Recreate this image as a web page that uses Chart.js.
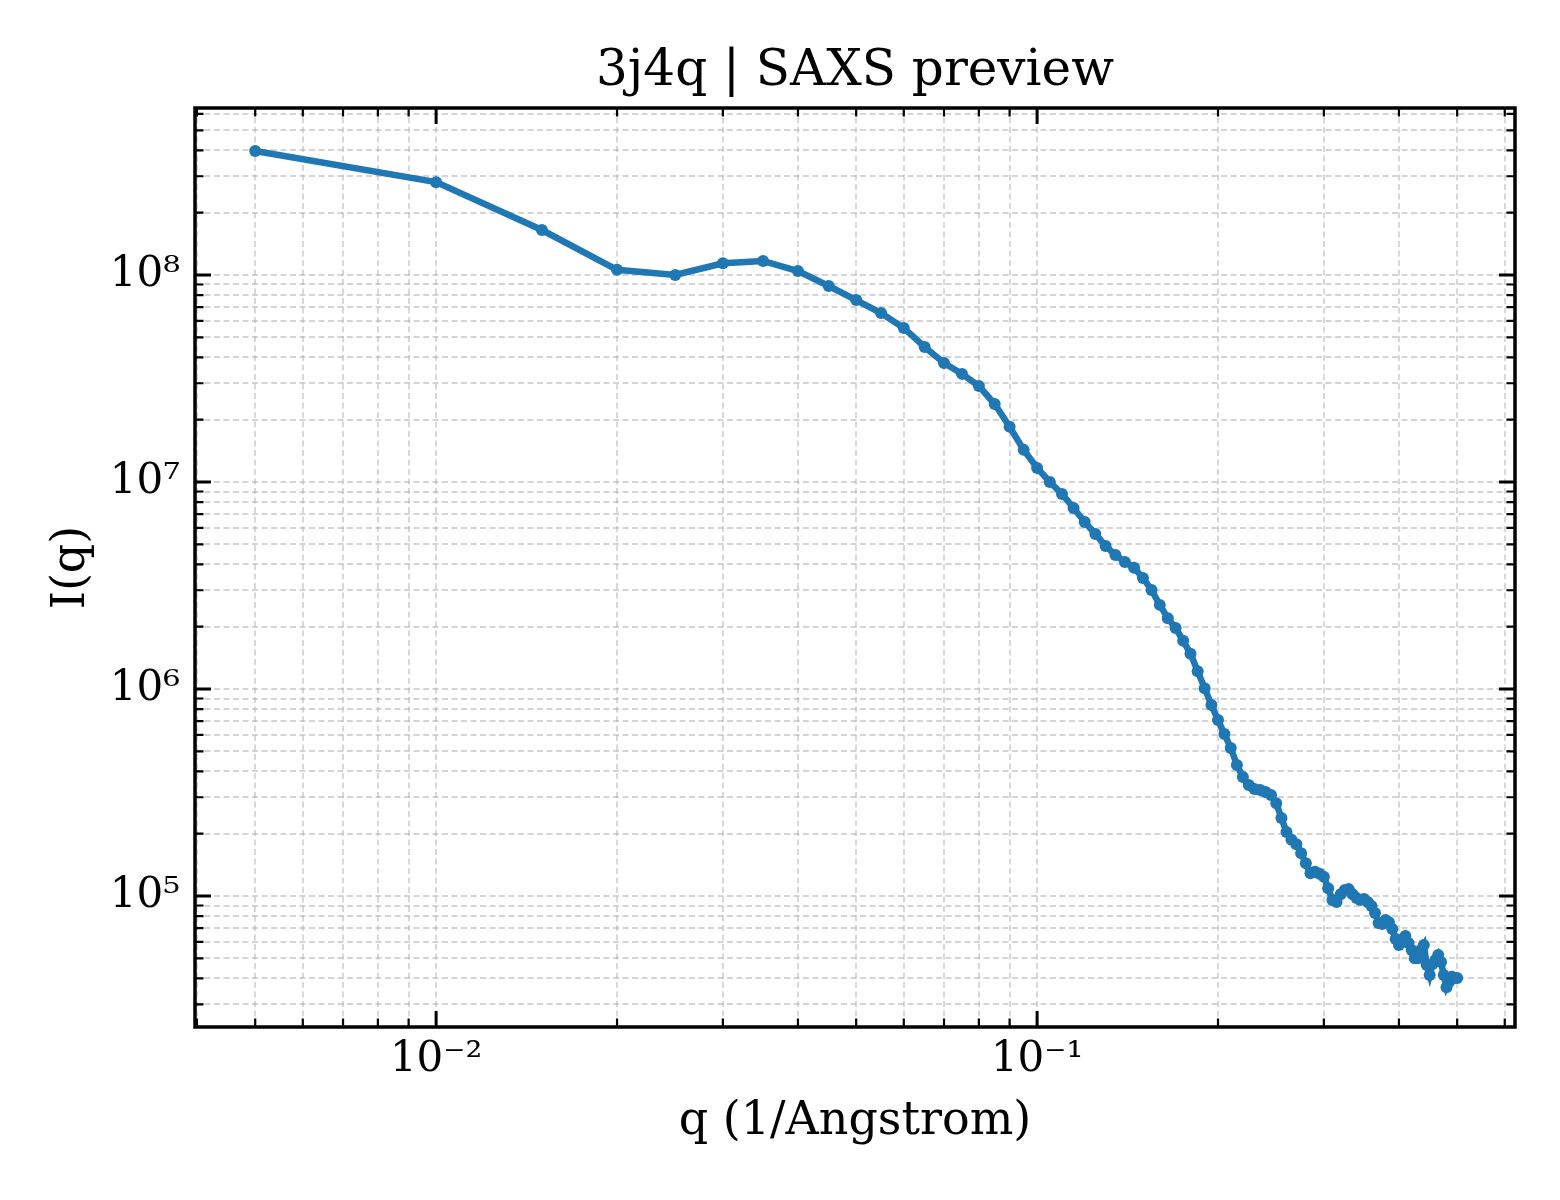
<!DOCTYPE html>
<html>
<head>
<meta charset="utf-8">
<title>3j4q | SAXS preview</title>
<script src="https://cdn.jsdelivr.net/npm/chart.js@4.4.1/dist/chart.umd.min.js"></script>
<style>
  html, body { margin: 0; padding: 0; background: #ffffff; }
  #wrap { width: 1560px; height: 1200px; }
</style>
</head>
<body>
<div id="wrap"><canvas id="saxs-chart" width="1560" height="1200"></canvas></div>
<script>
// Datos
const qValues = [
  0.005, 0.010, 0.015, 0.020, 0.025, 0.030, 0.035, 0.040, 0.045, 0.050,
  0.055, 0.060, 0.065, 0.070, 0.075, 0.080, 0.085, 0.090, 0.095, 0.100,
  0.105, 0.110, 0.115, 0.120, 0.125, 0.130, 0.135, 0.140, 0.145, 0.150,
  0.155, 0.160, 0.165, 0.170, 0.175, 0.180, 0.185, 0.190, 0.195, 0.200,
  0.205, 0.210, 0.215, 0.220, 0.225, 0.230, 0.235, 0.240, 0.245, 0.250,
  0.255, 0.260, 0.265, 0.270, 0.275, 0.280, 0.285, 0.290, 0.295, 0.300,
  0.305, 0.310, 0.315, 0.320, 0.325, 0.330, 0.335, 0.340, 0.345, 0.350,
  0.355, 0.360, 0.365, 0.370, 0.375, 0.380, 0.385, 0.390, 0.395, 0.400,
  0.405, 0.410, 0.415, 0.420, 0.425, 0.430, 0.435, 0.440, 0.445, 0.450,
  0.455, 0.460, 0.465, 0.470, 0.475, 0.480, 0.485, 0.490, 0.495, 0.500
];

const intensity = [
  3.97e8, 2.81e8, 1.65e8, 1.06e8, 1.00e8, 1.14e8, 1.17e8, 1.045e8, 8.85e7, 7.57e7,
  6.55e7, 5.55e7, 4.49e7, 3.76e7, 3.33e7, 2.91e7, 2.38e7, 1.85e7, 1.43e7, 1.17e7,
  1.00e7, 8.75e6, 7.49e6, 6.41e6, 5.61e6, 4.91e6, 4.44e6, 4.11e6, 3.85e6, 3.44e6,
  3.01e6, 2.55e6, 2.20e6, 1.97e6, 1.71e6, 1.48e6, 1.22e6, 1.01e6, 8.37e5, 7.08e5,
  6.06e5, 5.19e5, 4.30e5, 3.76e5, 3.44e5, 3.29e5, 3.25e5, 3.18e5, 3.08e5, 2.81e5,
  2.38e5, 2.04e5, 1.87e5, 1.78e5, 1.61e5, 1.44e5, 1.29e5, 1.31e5, 1.28e5, 1.24e5,
  1.09e5, 9.57e4, 9.36e4, 1.02e5, 1.07e5, 1.08e5, 1.02e5, 9.78e4, 9.57e4, 9.68e4,
  9.36e4, 8.95e4, 8.28e4, 7.41e4, 7.33e4, 7.66e4, 7.48e4, 6.93e4, 6.20e4, 5.80e4,
  6.13e4, 6.41e4, 5.93e4, 5.48e4, 5.01e4, 5.01e4, 5.48e4, 5.80e4, 4.64e4, 4.15e4,
  4.69e4, 4.91e4, 5.19e4, 4.80e4, 4.15e4, 3.63e4, 3.85e4, 4.07e4, 4.02e4, 4.02e4
];

// Marcas de los ejes
const xMajorTicks = [0.01, 0.1];
const xTickLabels = ['10\u207B\u00B2', '10\u207B\u00B9'];
const yMajorTicks = [1e5, 1e6, 1e7, 1e8];
const yTickLabels = ['10\u2075', '10\u2076', '10\u2077', '10\u2078'];

const xRange = [0.00397, 0.624];
const yRange = [2.33e4, 6.41e8];

const chartTitle = '3j4q | SAXS preview';
const serif = "'DejaVu Serif', 'Liberation Serif', serif";
const lineColor = '#1f77b4';

// Marcas 1..9 x 10^n dentro del rango
function logTicks(min, max) {
  const ticks = [];
  for (let e = Math.floor(Math.log10(min)); e <= Math.ceil(Math.log10(max)); e++) {
    for (let k = 1; k <= 9; k++) {
      const v = Number((k * Math.pow(10, e)).toPrecision(6));
      if (v >= min && v <= max) ticks.push({ value: v, major: k === 1 });
    }
  }
  return ticks;
}

function labelFor(value, majors, labels) {
  const i = majors.findIndex(m => Math.abs(m - value) / m < 1e-6);
  return i >= 0 ? labels[i] : '';
}

// Rejilla discontinua, marco, marcas hacia dentro y título centrado sobre el área
const framePlugin = {
  id: 'frame',
  beforeDatasetsDraw(chart) {
    const { ctx, chartArea: a, scales } = chart;
    ctx.save();
    ctx.strokeStyle = 'rgba(176,176,176,0.55)';
    ctx.lineWidth = 1.8;
    ctx.setLineDash([6, 3.5]);
    scales.x.ticks.forEach(t => {
      const px = Math.round(scales.x.getPixelForValue(t.value));
      ctx.beginPath(); ctx.moveTo(px, a.top); ctx.lineTo(px, a.bottom); ctx.stroke();
    });
    scales.y.ticks.forEach(t => {
      const py = Math.round(scales.y.getPixelForValue(t.value));
      ctx.beginPath(); ctx.moveTo(a.left, py); ctx.lineTo(a.right, py); ctx.stroke();
    });
    ctx.restore();
  },
  afterDatasetsDraw(chart) {
    const { ctx, chartArea: a, scales } = chart;
    ctx.save();
    ctx.strokeStyle = '#000000';
    ctx.setLineDash([]);
    scales.x.ticks.forEach(t => {
      const px = scales.x.getPixelForValue(t.value);
      const len = t.major ? 16 : 8.5;
      ctx.lineWidth = t.major ? 3 : 2.2;
      ctx.beginPath();
      ctx.moveTo(px, a.bottom); ctx.lineTo(px, a.bottom - len);
      ctx.moveTo(px, a.top); ctx.lineTo(px, a.top + len);
      ctx.stroke();
    });
    scales.y.ticks.forEach(t => {
      const py = scales.y.getPixelForValue(t.value);
      const len = t.major ? 16 : 8.5;
      ctx.lineWidth = t.major ? 3 : 2.2;
      ctx.beginPath();
      ctx.moveTo(a.left, py); ctx.lineTo(a.left + len, py);
      ctx.moveTo(a.right, py); ctx.lineTo(a.right - len, py);
      ctx.stroke();
    });
    ctx.lineWidth = 3.5;
    ctx.strokeRect(a.left, a.top, a.right - a.left, a.bottom - a.top);

    ctx.fillStyle = '#000000';
    ctx.font = `50px ${serif}`;
    ctx.textAlign = 'center';
    ctx.textBaseline = 'alphabetic';
    ctx.fillText(chartTitle, (a.left + a.right) / 2, a.top - 23);
    ctx.restore();
  }
};

const ctx = document.getElementById('saxs-chart').getContext('2d');

new Chart(ctx, {
  type: 'scatter',
  data: {
    datasets: [{
      label: 'I(q)',
      data: qValues.map((q, i) => ({ x: q, y: intensity[i] })),
      showLine: true,
      borderColor: lineColor,
      backgroundColor: lineColor,
      borderWidth: 6.5,
      pointRadius: 6,
      pointBorderWidth: 0,
      pointHoverRadius: 6,
      tension: 0
    }]
  },
  options: {
    responsive: false,
    animation: false,
    devicePixelRatio: 1,
    layout: { padding: { left: 0, right: 45, top: 108, bottom: 0 } },
    plugins: {
      legend: { display: false },
      tooltip: { enabled: false },
      title: { display: false }
    },
    scales: {
      x: {
        type: 'logarithmic',
        min: xRange[0],
        max: xRange[1],
        afterBuildTicks: scale => { scale.ticks = logTicks(xRange[0], xRange[1]); },
        afterFit: scale => { scale.height = 173; },
        grid: { display: false, drawTicks: false, tickLength: 0 },
        border: { display: false },
        ticks: {
          autoSkip: false,
          maxRotation: 0,
          padding: 8,
          color: '#000000',
          font: { family: serif, size: 42 },
          callback: value => labelFor(value, xMajorTicks, xTickLabels)
        },
        title: {
          display: true,
          text: 'q (1/Angstrom)',
          color: '#000000',
          font: { family: serif, size: 46, lineHeight: 1.2 },
          padding: { top: 0, bottom: 50 }
        }
      },
      y: {
        type: 'logarithmic',
        min: yRange[0],
        max: yRange[1],
        afterBuildTicks: scale => { scale.ticks = logTicks(yRange[0], yRange[1]); },
        afterFit: scale => { scale.width = 195; },
        grid: { display: false, drawTicks: false, tickLength: 0 },
        border: { display: false },
        ticks: {
          autoSkip: false,
          padding: 15,
          color: '#000000',
          font: { family: serif, size: 42 },
          callback: value => labelFor(value, yMajorTicks, yTickLabels)
        },
        title: {
          display: true,
          text: 'I(q)',
          color: '#000000',
          font: { family: serif, size: 46, lineHeight: 1.2 },
          padding: { top: 44, bottom: 0 }
        }
      }
    }
  },
  plugins: [framePlugin]
});
</script>
</body>
</html>
